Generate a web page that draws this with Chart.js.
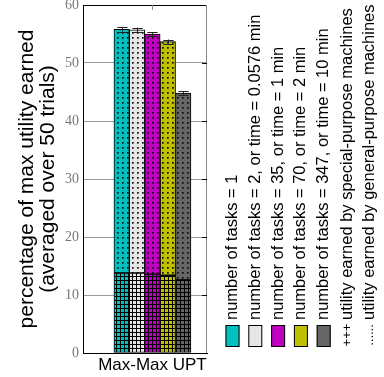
<!DOCTYPE html>
<html>
<head>
<meta charset="utf-8">
<script src="https://cdn.jsdelivr.net/npm/chart.js@4.4.1/dist/chart.umd.min.js"></script>
<style>
  html, body { margin: 0; padding: 0; background: #fff; }
  #wrap { width: 384px; height: 377px; position: relative; }
</style>
</head>
<body>
<div id="wrap"><canvas id="c" width="384" height="377"></canvas></div>
<script>
// ---- data ----
const categories = ['Max-Max UPT'];
const taskLabels = [
  'number of tasks = 1',
  'number of tasks = 2, or time = 0.0576 min',
  'number of tasks = 35, or time = 1 min',
  'number of tasks = 70, or time = 2 min',
  'number of tasks = 347, or time = 10 min'
];
const seriesColors = ['#00c0c0', '#e6e6e6', '#c000c0', '#c0c000', '#666666'];
const totalUtility = [55.8, 55.7, 55.0, 53.7, 44.8];     // whole bar
const specialUtility = [13.8, 13.8, 13.6, 13.4, 12.6];   // special-purpose part
const errorMargin = [0.4, 0.4, 0.35, 0.35, 0.3];
const yTicks = [0, 10, 20, 30, 40, 50, 60];
const xRange = [-0.56, 0.44];                            // category 0 sits right of centre
const patternMarks = ['+++', '......'];
const patternTexts = [
  'utility earned by special-purpose machines',
  'utility earned by general-purpose machines'
];

// ---- fill patterns ----
function dotPattern(color) {
  const t = document.createElement('canvas');
  t.width = 5; t.height = 5;
  const g = t.getContext('2d');
  g.fillStyle = color; g.fillRect(0, 0, 5, 5);
  g.fillStyle = '#111'; g.fillRect(2, 2, 1.7, 1.7);
  return g.createPattern(t, 'repeat');
}
function gridPattern(color) {
  const t = document.createElement('canvas');
  t.width = 4; t.height = 4;
  const g = t.getContext('2d');
  g.fillStyle = color; g.fillRect(0, 0, 4, 4);
  g.fillStyle = '#000';
  g.fillRect(0, 0, 4, 1);
  g.fillRect(0, 0, 1, 4);
  return g.createPattern(t, 'repeat');
}

const datasets = [];
taskLabels.forEach((lab, i) => {
  datasets.push({
    label: lab + ' (special)',
    data: [{ x: 0, y: specialUtility[i] }],
    stack: 's' + i,
    backgroundColor: gridPattern(seriesColors[i]),
    borderColor: '#000', borderWidth: 1, borderSkipped: false
  });
  datasets.push({
    label: lab + ' (general)',
    data: [{ x: 0, y: [specialUtility[i], totalUtility[i]] }],
    stack: 's' + i,
    backgroundColor: dotPattern(seriesColors[i]),
    borderColor: '#000', borderWidth: 1, borderSkipped: false
  });
});

// frame, inner ticks, error bars and rotated legend
const extras = {
  id: 'extras',
  afterDatasetsDraw(chart) {
    const ctx = chart.ctx, y = chart.scales.y;
    ctx.save();
    ctx.strokeStyle = '#222'; ctx.lineWidth = 1;
    taskLabels.forEach((_, i) => {
      const el = chart.getDatasetMeta(i * 2 + 1).data[0];
      const cx = Math.round(el.x) + 0.5;
      const yt = y.getPixelForValue(totalUtility[i] + errorMargin[i]);
      const yb = y.getPixelForValue(totalUtility[i] - errorMargin[i]);
      const hw = el.width * 0.33;
      ctx.beginPath();
      ctx.moveTo(cx, yt); ctx.lineTo(cx, yb);
      ctx.moveTo(cx - hw, Math.round(yt) + 0.5); ctx.lineTo(cx + hw, Math.round(yt) + 0.5);
      ctx.moveTo(cx - hw, Math.round(yb) + 0.5); ctx.lineTo(cx + hw, Math.round(yb) + 0.5);
      ctx.stroke();
    });
    ctx.restore();
  },
  afterDraw(chart) {
    const ctx = chart.ctx, a = chart.chartArea, y = chart.scales.y, x = chart.scales.x;
    ctx.save();
    // top and right frame
    ctx.lineWidth = 1;
    ctx.strokeStyle = '#000';
    ctx.beginPath(); ctx.moveTo(a.left, a.top + 0.5); ctx.lineTo(a.right, a.top + 0.5); ctx.stroke();
    ctx.strokeStyle = '#888';
    ctx.beginPath(); ctx.moveTo(a.right - 0.5, a.top); ctx.lineTo(a.right - 0.5, a.bottom); ctx.stroke();
    // short inward ticks on the right edge
    ctx.strokeStyle = '#000';
    yTicks.slice(1, -1).forEach(v => {
      const py = Math.round(y.getPixelForValue(v)) + 0.5;
      ctx.beginPath(); ctx.moveTo(a.right - 5, py); ctx.lineTo(a.right, py); ctx.stroke();
    });
    // category tick on the top edge
    const cx = Math.round(x.getPixelForValue(0)) + 0.5;
    ctx.strokeStyle = '#888';
    ctx.beginPath(); ctx.moveTo(cx, a.top); ctx.lineTo(cx, a.top + 5); ctx.stroke();

    // legend, written bottom-to-top
    const col0 = 232.5, step = 22.8, swTop = 325, swBot = 347, textStart = 320;
    ctx.fillStyle = '#000';
    ctx.textBaseline = 'middle';
    taskLabels.forEach((lab, i) => {
      const c = col0 + i * step;
      ctx.fillStyle = seriesColors[i];
      ctx.fillRect(c - 7, swTop, 14, swBot - swTop);
      ctx.strokeStyle = '#000';
      ctx.strokeRect(c - 7 + 0.5, swTop + 0.5, 13, swBot - swTop - 1);
      ctx.fillStyle = '#000';
      ctx.font = '16.5px "Liberation Sans", Arial, sans-serif';
      ctx.save(); ctx.translate(c, textStart); ctx.rotate(-Math.PI / 2);
      ctx.textAlign = 'left'; ctx.fillText(lab, 0, 0);
      ctx.restore();
    });
    patternTexts.forEach((lab, j) => {
      const c = col0 + (5 + j) * step + 0.5;
      ctx.font = '13px "Liberation Sans", Arial, sans-serif';
      ctx.save(); ctx.translate(c, (swTop + swBot) / 2 - 1); ctx.rotate(-Math.PI / 2);
      ctx.textAlign = 'center'; ctx.fillText(patternMarks[j], 0, 0);
      ctx.restore();
      ctx.font = '16.5px "Liberation Sans", Arial, sans-serif';
      ctx.save(); ctx.translate(c, textStart); ctx.rotate(-Math.PI / 2);
      ctx.textAlign = 'left'; ctx.fillText(lab, 0, 0);
      ctx.restore();
    });
    ctx.restore();
  }
};

new Chart(document.getElementById('c'), {
  type: 'bar',
  data: { datasets },
  plugins: [extras],
  options: {
    responsive: false,
    animation: false,
    events: [],
    layout: { padding: { left: 0, right: 177, top: 5, bottom: 0 } },
    plugins: { legend: { display: false }, tooltip: { enabled: false } },
    datasets: { bar: { barThickness: 15.4 } },
    scales: {
      x: {
        type: 'linear',
        stacked: true,
        offset: false,
        min: xRange[0], max: xRange[1],
        afterBuildTicks: s => { s.ticks = categories.map((_, i) => ({ value: i })); },
        grid: { display: false, drawTicks: false },
        border: { color: '#000', width: 1 },
        ticks: {
          font: { family: 'Liberation Sans', size: 17 }, color: '#000', padding: 2,
          maxRotation: 0, autoSkip: false,
          callback: v => categories[v] ?? ''
        },
        afterFit: s => { s.height = 24; s.paddingLeft = 0; s.paddingRight = 0; }
      },
      y: {
        stacked: false,
        min: 0, max: 60,
        afterBuildTicks: s => { s.ticks = yTicks.map(v => ({ value: v })); },
        ticks: { font: { family: 'Liberation Serif', size: 14 }, color: '#777', padding: 4 },
        grid: {
          drawTicks: false,
          color: c => (c.tick && (c.tick.value === 0 || c.tick.value === 60)) ? 'rgba(0,0,0,0)' : '#999'
        },
        border: { color: '#000', width: 1 },
        title: {
          display: true,
          text: ['percentage of max utility earned', '(averaged over 50 trials)'],
          font: { family: 'Liberation Sans', size: 21, lineHeight: 1.0 },
          color: '#000',
          padding: { top: 17, bottom: 0 }
        },
        afterFit: s => { s.width = 83; s.paddingTop = 0; s.paddingBottom = 0; }
      }
    }
  }
});
</script>
</body>
</html>
